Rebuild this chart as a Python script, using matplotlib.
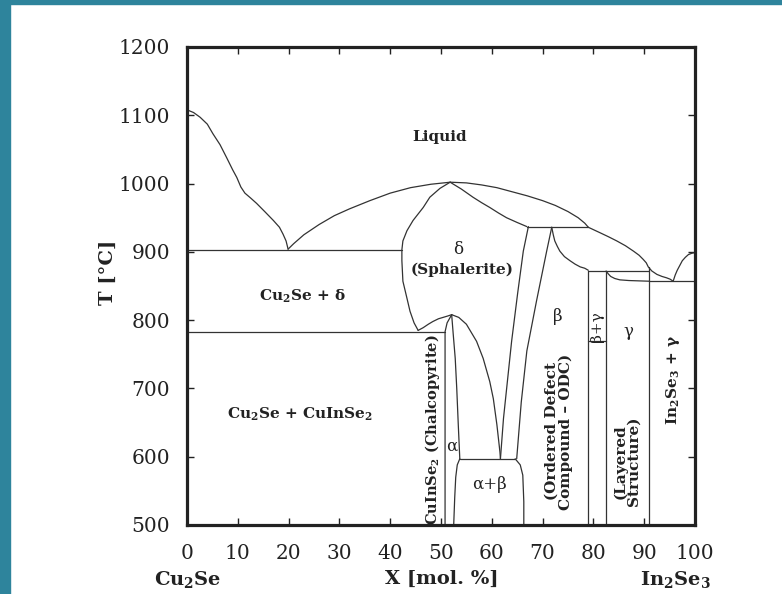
import numpy as np
import matplotlib.pyplot as plt
from matplotlib.patches import Rectangle

plt.rcParams['font.family'] = ['DejaVu Serif']
plt.rcParams['mathtext.fontset'] = 'dejavuserif'
plt.rcParams['mathtext.default'] = 'regular'

# phase boundaries: X [mol. %] In2Se3, T [C]
liq_left_x = [0, 1.3, 2.6, 4, 5.1, 6.5, 7.8, 9, 9.8, 10.6, 11.4, 12.5, 13.7, 15.3, 17, 18.2, 18.9, 19.5, 19.9]
liq_left_t = [1108, 1104, 1097, 1087, 1073, 1057, 1038, 1020, 1009, 995, 986, 979, 971, 959, 946, 936, 926, 916, 904]

liq_mid_x = [19.9, 21, 23, 26, 29, 32, 36, 40, 44, 48, 51.8]
liq_mid_t = [904, 912, 925, 940, 953, 963, 975, 986, 994, 999, 1002]

liq_right_x = [51.8, 55, 58, 61, 64, 67, 70, 72.5, 75, 77, 78.3, 79]
liq_right_t = [1002, 1001, 998, 994, 988, 982, 975, 968, 959, 950, 942, 936]

liq_end_x = [79, 81.3, 83, 84.6, 86.3, 87.9, 89, 89.8, 90.4, 90.8, 91.5, 92.5, 93.5, 94.4, 95.1, 95.7]
liq_end_t = [936, 928, 922, 916, 909, 901, 895, 889, 884, 878, 872, 867, 864, 862, 860, 857]

in2se3_liq_x = [95.7, 96.1, 96.5, 97.0, 97.5, 98.1, 98.7, 99.4, 100]
in2se3_liq_t = [857, 866, 873, 880, 887, 892, 896, 898, 899]

delta_left_x = [51.8, 49.8, 47.8, 46.5, 44.5, 43.3, 42.5, 42.3, 42.3, 42.5, 43.3, 43.9, 44.7, 45.5]
delta_left_t = [1002, 993, 980, 965, 946, 931, 916, 903, 887, 857, 832, 813, 796, 785]

delta_bottom_x = [45.5, 46.5, 47.5, 48.4, 49.5, 50.4, 51.3, 52.1]
delta_bottom_t = [785, 789, 794, 798, 802, 804, 806, 808]

delta_inner_x = [51.8, 54, 56.3, 58, 59.6, 61.3, 62.9, 65, 66.9]
delta_inner_t = [1002, 992, 980, 972, 965, 957, 950, 943, 937]

delta_low_x = [52.1, 53.5, 55, 57, 58.3, 59.6, 60.3, 61, 61.6, 61.7]
delta_low_t = [808, 804, 794, 769, 744, 710, 685, 647, 607, 597]

alpha_left_x = [50.8, 50.8, 51.2, 52.1]
alpha_left_t = [500, 783, 796, 808]

alpha_right_x = [52.1, 52.4, 52.8, 53.1, 53.4, 53.7]
alpha_right_t = [808, 780, 744, 700, 647, 597]

ab_left_x = [53.7, 53.2, 52.9, 52.7, 52.5]
ab_left_t = [597, 588, 570, 540, 500]

ab_right_x = [64.6, 65.6, 66.1, 66.3, 66.3]
ab_right_t = [597, 588, 573, 534, 500]

line_a_x = [67.2, 66.2, 65.1, 63.9, 62.3, 61.7]
line_a_t = [937, 901, 840, 769, 656, 597]

line_b_x = [71.8, 70.8, 68.8, 66.9, 65.8, 64.9]
line_b_t = [936, 901, 828, 755, 680, 597]

beta_top_x = [71.8, 72.1, 72.4, 72.9, 73.4, 74.3, 75.4, 76.4, 77.4, 78.3, 79]
beta_top_t = [936, 925, 916, 908, 901, 893, 887, 882, 878, 876, 873]

gamma_top_x = [82.5, 82.9, 83.4, 84.2, 85.2, 87, 89, 91]
gamma_top_t = [872, 868, 864, 861, 859, 858, 857.5, 857]

# straight lines: (x pair, T pair)
straight_lines = [
    ([0, 42.3], [903, 903]),
    ([0, 50.8], [783, 783]),
    ([53.7, 64.6], [597, 597]),
    ([66.9, 79], [937, 937]),
    ([79, 91], [872, 872]),
    ([91, 100], [857, 857]),
    ([79, 79], [872, 500]),
    ([82.5, 82.5], [872, 500]),
    ([91, 91], [878, 500]),
    ([79, 82.5], [769, 769]),
]

curves = [
    (liq_left_x, liq_left_t), (liq_mid_x, liq_mid_t), (liq_right_x, liq_right_t),
    (liq_end_x, liq_end_t), (in2se3_liq_x, in2se3_liq_t),
    (delta_left_x, delta_left_t), (delta_bottom_x, delta_bottom_t),
    (delta_inner_x, delta_inner_t), (delta_low_x, delta_low_t),
    (alpha_left_x, alpha_left_t), (alpha_right_x, alpha_right_t),
    (ab_left_x, ab_left_t), (ab_right_x, ab_right_t),
    (line_a_x, line_a_t), (line_b_x, line_b_t),
    (beta_top_x, beta_top_t), (gamma_top_x, gamma_top_t),
]

fig = plt.figure(figsize=(7.82, 5.94), dpi=100)
fig.patch.set_facecolor('white')
teal = '#2e849c'
fig.patches.append(Rectangle((0, 0), 10 / 782, 1, transform=fig.transFigure, color=teal, zorder=0))
fig.patches.append(Rectangle((0, 1 - 4 / 594), 1, 4 / 594, transform=fig.transFigure, color=teal, zorder=0))

ax = fig.add_axes([187 / 782, 69 / 594, 508 / 782, 478 / 594])

line_color = '#333333'
for xs, ts in curves + straight_lines:
    ax.plot(xs, ts, color=line_color, lw=0.9, solid_capstyle='round', solid_joinstyle='round')

ax.set_xlim(0, 100)
ax.set_ylim(500, 1200)
ax.set_xticks(np.arange(0, 101, 10))
ax.set_yticks(np.arange(500, 1201, 100))
ax.tick_params(direction='in', length=5, width=1, top=True, right=True,
               labelsize=14.5, colors='#222222')
ax.tick_params(axis='x', pad=14)
ax.tick_params(axis='y', pad=12)
for s in ax.spines.values():
    s.set_linewidth(2.3)
    s.set_color('#222222')

txt = dict(ha='center', va='center', color='#222222')
ax.text(49.8, 1068, 'Liquid', fontsize=11, fontweight='bold', **txt)
ax.text(53.4, 903, 'δ', fontsize=12, **txt)
ax.text(54.1, 874, '(Sphalerite)', fontsize=11, fontweight='bold', **txt)
ax.text(22.7, 835, r'Cu$_2$Se + δ', fontsize=11, fontweight='bold', **txt)
ax.text(22.2, 662, r'Cu$_2$Se + CuInSe$_2$', fontsize=11, fontweight='bold', **txt)
ax.text(48.4, 640, r'CuInSe$_2$ (Chalcopyrite)', fontsize=10.5, fontweight='bold', rotation=90, **txt)
ax.text(52.2, 615, 'α', fontsize=12, **txt)
ax.text(59.6, 559, 'α+β', fontsize=12, **txt)
ax.text(73.0, 806, 'β', fontsize=12, **txt)
ax.text(73.2, 637, '(Ordered Defect\nCompound – ODC)', fontsize=11, fontweight='bold',
        rotation=90, linespacing=0.95, **txt)
ax.text(80.8, 790, 'β+γ', fontsize=11, rotation=90, **txt)
ax.text(86.8, 784, 'γ', fontsize=12, **txt)
ax.text(86.6, 593, '(Layered\nStructure)', fontsize=11, fontweight='bold',
        rotation=90, linespacing=0.95, **txt)
ax.text(95.7, 713, r'In$_2$Se$_3$ + γ', fontsize=11, fontweight='bold', rotation=90, **txt)

fig.text(108 / 782, 1 - 272 / 594, 'T [°C]', rotation=90, fontsize=14, fontweight='bold', **txt)
fig.text(188 / 782, 1 - 579 / 594, r'Cu$_2$Se', fontsize=14, fontweight='bold', **txt)
fig.text(442 / 782, 1 - 579 / 594, 'X [mol. %]', fontsize=14, fontweight='bold', **txt)
fig.text(675 / 782, 1 - 579 / 594, r'In$_2$Se$_3$', fontsize=14, fontweight='bold', **txt)

fig.savefig('out.png', dpi=100)
